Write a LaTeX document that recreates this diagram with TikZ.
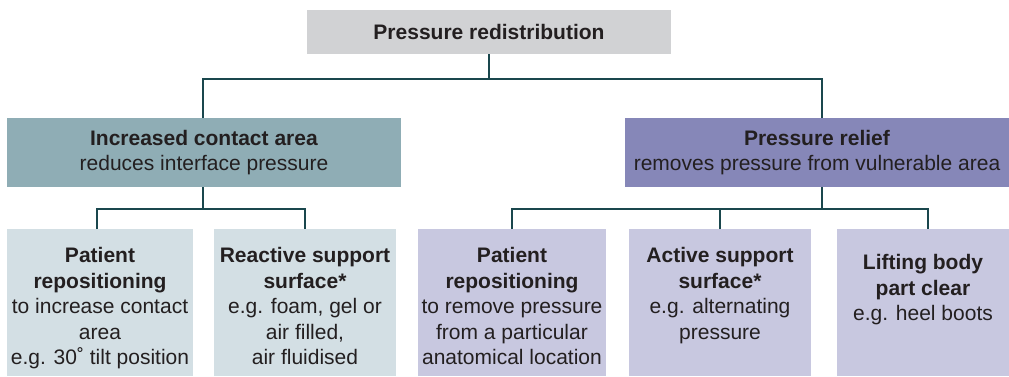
\documentclass[tikz,border=0pt]{standalone}
\usepackage{fontspec}
\setmainfont{Liberation Sans}
\usetikzlibrary{calc}
\definecolor{topfill}{HTML}{D1D2D4}
\definecolor{lmidfill}{HTML}{8FADB5}
\definecolor{rmidfill}{HTML}{8687B8}
\definecolor{lbotfill}{HTML}{D3DFE4}
\definecolor{rbotfill}{HTML}{C8C8E0}
\definecolor{connline}{HTML}{1A474D}
\definecolor{inktext}{HTML}{231F20}
\begin{document}
\begin{tikzpicture}[x=1pt,y=-1pt,
  box/.style={draw=none,inner sep=0pt,outer sep=0pt},
  txt/.style={inner sep=0pt,outer sep=0pt,align=center,text=inktext,
    font=\fontsize{21}{25.5}\selectfont},
  conn/.style={draw=connline,line width=2.4pt}]
\useasboundingbox (0,0) rectangle (1009,376);

% boxes
\node[box,fill=topfill,minimum width=364pt,minimum height=44pt] (top) at (489,32) {};
\node[box,fill=lmidfill,minimum width=394pt,minimum height=69pt] (lmid) at (204,152.5) {};
\node[box,fill=rmidfill,minimum width=384pt,minimum height=69pt] (rmid) at (817,152.5) {};
\node[box,fill=lbotfill,minimum width=186pt,minimum height=147pt] (b1) at (100,302.5) {};
\node[box,fill=lbotfill,minimum width=182pt,minimum height=147pt] (b2) at (305,302.5) {};
\node[box,fill=rbotfill,minimum width=188pt,minimum height=147pt] (b3) at (512,302.5) {};
\node[box,fill=rbotfill,minimum width=182pt,minimum height=147pt] (b4) at (720,302.5) {};
\node[box,fill=rbotfill,minimum width=172pt,minimum height=147pt] (b5) at (923,302.5) {};

% texts
\node[txt] (ttop) at (top.center) {\textbf{Pressure redistribution}};
\node[txt] (tlmid) at (lmid.center) {\textbf{Increased contact area}\\reduces interface pressure};
\node[txt] (trmid) at (rmid.center) {\textbf{Pressure relief}\\removes pressure from vulnerable area};
\node[txt,anchor=north] (tb1) at (100,247.5) {\textbf{Patient}\\\textbf{repositioning}\\to increase contact\\area\\e.g. 30˚ tilt position};
\node[txt,anchor=north] (tb2) at (305,247.5) {\textbf{Reactive support}\\\textbf{surface*}\\e.g. foam, gel or\\air filled,\\air fluidised};
\node[txt,anchor=north] (tb3) at (512,247.5) {\textbf{Patient}\\\textbf{repositioning}\\to remove pressure\\from a particular\\anatomical location};
\node[txt,anchor=north] (tb4) at (720,247.5) {\textbf{Active support}\\\textbf{surface*}\\e.g. alternating\\pressure};
\node[txt,anchor=north] (tb5) at (923,254.5) {\textbf{Lifting body}\\\textbf{part clear}\\e.g. heel boots};

% connectors
\draw[conn] (top.south) -- ++(0,25) coordinate (j0);
\draw[conn] ($(lmid.north)+(-1,0)$) |- (j0) -| ($(rmid.north)+(5,0)$);
\draw[conn] ($(lmid.south)+(-1,0)$) -- ++(0,22) coordinate (j1);
\draw[conn] ($(b1.north)+(-3,0)$) |- (j1) -| (b2.north);
\draw[conn] ($(rmid.south)+(5,0)$) -- ++(0,22) coordinate (j2);
\draw[conn] (b3.north) |- (j2) -| ($(b5.north)+(5,0)$);
\draw[conn] (b4.north) -- (b4.north |- j2);
\end{tikzpicture}
\end{document}
